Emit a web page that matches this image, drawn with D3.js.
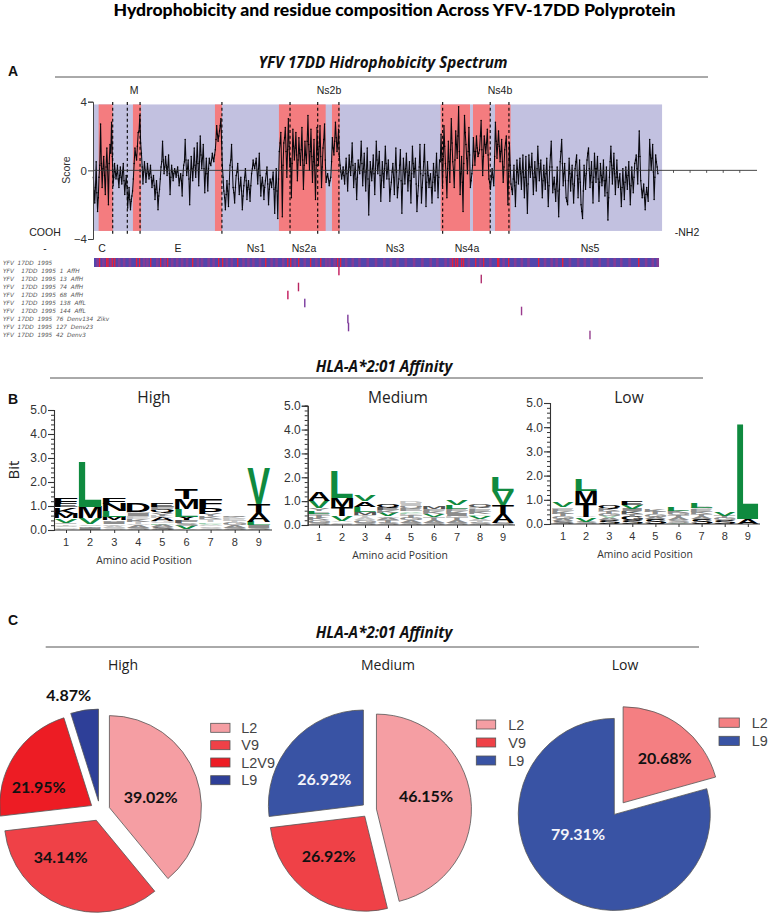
<!DOCTYPE html>
<html><head><meta charset="utf-8">
<script src="https://cdn.jsdelivr.net/npm/d3@7"></script>
<style>html,body{margin:0;padding:0;background:#fff}svg{display:block}</style>
</head><body><svg id="c" width="768" height="913"></svg>
<script>
// ---------- Panel A data ----------
const proteinTop = [["M",134],["Ns2b",329],["Ns4b",500]];
const proteinBottom = [["C",102],["E",178],["Ns1",256],["Ns2a",304],["Ns3",395],["Ns4a",467],["Ns5",590]];
const hydrophobicBands = [[34,119],[241,290],[736,778],[1122,1404],[1442,1489],[2098,2275],[2293,2396],[2426,2520]];
const proteinBoundaries = [119,207,284,778,1189,1356,1484,2110,2397,2510];
const zoneEnds = [34,119,207,241,290,736,778,1122,1404,1442,1489,2098,2275,2293,2396,2426,2520,3411];
const hydroZones = [
[-0.4,-1.9,0.5,-2.4],
[-0.4,2.7,-1.0,0.8,-1.4,1.3,-2.0,1.5,2.8],
[-0.9,0.4,-0.5,0.3,-1.0,0.2,-0.8,0.4,-1.4,-0.3],
[-2.2,-1.0,-2.3,-1.5],
[-0.5,1.3,0.6,2.2,3.2],
[1.0,-0.8,0.5,-0.7,0.4,-0.5,0.3,-1.0,-0.3,-1.7,-0.6,-2.3,-1.1,0.2,1.7,-0.2,0.8,-0.3,0.9,-1.4,0.3,-0.6,0.1,-0.4,0.2,-0.9,-0.2,-1.5,0.3,1.8,-0.3,0.6,-2.0,0.8,-0.6,1.3,-0.4,1.6,-0.9,2.0,0.1,1.5,-1.3,0.7,-1.2,0.7,0.3,1.0,0.5],
[1.2,2.6,1.7,2.3,3.0],
[0.3,-1.2,-2.3,-0.6,-2.1,0.3,1.5,-1.0,-1.9,-0.3,0.4,-1.4,-0.4,-2.3,-0.9,0.1,-1.7,-0.6,-1.8,-0.2,0.6,0.1,0.7,-0.8,1.0,-1.5,-0.4,-1.7,-0.6,0.2,-2.0,-0.5,-1.0,-0.1,-2.5,0.1,-2.8],
[1.1,2.2,-2.7,1.6,2.5,-0.4,3.0,0.2,-1.6,2.4,0.6,2.2,-0.6,1.9,0.3,2.5,-1.1,1.7,0.4,3.2,0.0,2.4,-0.7,1.8,-1.7,2.5,0.3,2.6,-1.0,1.3,2.7],
[-0.7,-0.2,-0.9,-0.4],
[1.9,0.9,2.8,1.1,2.4],
[0.3,-0.5,0.2,-0.8,0.7,-1.2,0.9,-0.3,1.6,-1.0,0.4,-1.7,0.6,-0.2,1.7,-0.9,1.0,-1.2,1.3,-2.6,0.5,-0.6,0.9,-1.4,1.7,-0.2,1.1,-1.8,0.5,-1.0,1.4,-0.5,0.6,-1.8,-0.7,0.4,-1.4,1.3,-1.6,-0.5,1.2,-2.5,0.7,-0.8,1.0,-1.2,0.5,-1.9,1.4,-0.4,0.7,-2.4,-0.9,1.5,-1.9,-0.3,1.5,-2.1,0.5,-1.0,-0.2,-1.9,0.4,-1.2,1.0,-1.6,0.6],
[2.1,-0.9,2.6,0.4,-1.6,1.7,-0.7,3.0,0.5,-1.0,2.3,0.7,3.7,-1.4,0.8,-2.4,3.2,1.5,-0.2,2.5],
[-1.0,-0.2],
[1.9,0.3,2.0,0.8,1.2,2.9,-0.3,2.0,1.0,2.4,-0.5],
[-1.1,0.1,-0.9],
[2.8,0.7,2.3,0.5,1.8,-0.7,1.2,2.0,-2.0,1.6],
[-0.8,-1.4,0.3,-2.1,0.6,-0.8,0.7,-1.1,0.9,-1.6,0.8,-2.5,0.9,-0.4,1.0,-1.4,0.5,-1.2,1.4,-0.6,0.6,-1.6,0.3,-1.1,0.7,-2.1,0.2,1.7,-1.3,-0.4,-1.8,0.2,-2.7,0.5,1.8,-0.9,0.4,-1.6,-2.0,0.7,-1.2,0.3,-1.9,0.1,0.9,-1.6,0.6,-2.0,-2.8,0.3,-1.1,0.6,1.3,-1.0,0.5,-1.9,1.0,-0.7,0.8,-1.8,0.4,-0.9,0.6,-1.5,0.2,-2.9,-0.4,1.4,-0.8,1.0,-1.4,0.6,-1.0,-0.2,-2.1,0.1,-1.7,0.2,-1.1,0.5,-2.0,0.2,-1.3,0.4,0.9,-0.8,2.3,-0.6,-1.6,-0.8,-2.3,-1.0,-1.8,1.8,0.0,1.5,-1.7,0.9,0.2]
];
const hydroCore = [
[-1.2,-1.0,-1.3,-1.6],
[0.3,0.4,0.1,-0.3,0.2,0.0,0.4,1.0,0.8],
[-0.4,-0.1,-0.2,-0.5,-0.3,-0.4,-0.1,-0.6,-0.8,-0.9],
[-1.6,-1.7,-1.8,-1.2],
[0.4,0.9,1.4,2.3,1.6],
[0.2,-0.1,0.0,-0.2,-0.1,-0.2,-0.4,-0.6,-0.9,-1.1,-1.3,-1.5,-0.5,0.5,0.6,0.2,0.3,0.2,-0.2,-0.4,-0.1,-0.2,-0.1,-0.1,-0.3,-0.5,-0.6,-0.3,0.5,0.6,0.1,-0.5,-0.4,0.1,0.2,0.3,0.5,0.4,0.5,0.9,0.7,0.1,-0.2,-0.2,0.1,0.4,0.6,0.7,0.9],
[1.8,2.1,2.0,2.6,1.7],
[-0.4,-1.6,-1.4,-1.2,-0.8,0.6,0.2,-1.3,-1.0,-0.1,-0.5,-0.9,-1.2,-1.5,-0.4,-0.6,-1.0,-1.1,-0.9,0.1,0.3,0.4,0.0,0.1,-0.3,-0.8,-0.9,-1.0,-0.2,-0.8,-1.1,-0.7,-0.5,-1.1,-1.0,-1.2,-0.5],
[1.6,0.2,0.3,1.9,1.1,1.2,1.4,0.7,0.4,1.4,1.3,0.9,0.6,1.0,1.2,0.6,0.3,0.9,1.7,1.5,1.1,0.8,0.5,0.0,0.3,1.2,1.4,0.8,0.2,1.8,0.6],
[-0.4,-0.5,-0.6,0.5],
[1.3,1.7,1.9,1.6,0.8],
[-0.1,-0.2,-0.3,0.0,-0.2,-0.1,0.2,0.5,0.3,-0.2,-0.5,-0.4,0.2,0.6,0.4,0.1,-0.1,0.0,-0.5,-0.9,-0.1,0.1,-0.2,0.1,0.6,0.4,-0.3,-0.6,-0.2,0.1,0.4,0.0,-0.5,-1.1,-0.1,-0.4,0.0,-0.1,-1.0,0.3,-0.6,-0.8,0.0,0.1,-0.1,-0.3,-0.6,-0.2,0.4,0.1,-0.8,-1.5,0.2,-0.2,-1.0,0.5,-0.2,-0.7,-0.3,-0.5,-1.0,-0.7,-0.4,-0.1,-0.3,-0.4,0.5],
[0.6,0.8,1.4,-0.4,0.1,0.5,1.2,1.6,0.0,0.6,1.5,2.0,1.1,-0.2,-0.7,0.4,2.2,0.7,1.1,0.9],
[-0.6,0.3],
[1.1,1.1,1.3,1.0,2.0,1.2,0.8,1.5,1.6,0.9,-0.7],
[-0.5,-0.4,0.8],
[1.7,1.5,1.4,1.1,0.5,0.2,1.6,0.0,-0.2,0.3],
[-1.1,-0.5,-0.9,-0.7,-0.1,0.0,-0.2,-0.1,-0.4,-0.4,-0.9,-0.8,0.2,0.2,-0.2,-0.4,-0.4,0.1,0.4,0.0,-0.5,-0.6,-0.4,-0.2,-0.7,-0.9,0.9,0.2,-0.8,-1.1,-0.8,-1.2,-1.1,1.1,0.4,-0.2,-0.6,-1.8,-0.6,-0.2,-0.4,-0.8,-0.9,0.5,-0.3,-0.5,-0.7,-2.4,-1.2,-0.3,-0.2,1.0,0.1,-0.3,-0.7,-0.4,0.1,0.1,-0.5,-0.7,-0.3,-0.4,-0.6,-0.6,-1.3,-1.6,0.5,0.3,0.1,-0.2,-0.4,-0.4,-0.6,-1.1,-1.0,-0.8,-0.7,-0.4,-0.3,-0.8,-0.9,-0.5,-0.4,0.6,0.1,0.8,0.8,-1.1,-1.2,-1.6,-1.4,-1.4,0.0,0.9,0.7,-0.1,-0.4,0.5,-0.2]
];
const stripStrong = [36,78,86,113,127,259,277,344,404,446,597,754,778,869,1038,1171,1189,1237,1309,1370,1472,1490,2166,2184,2196,2220,2232,2305,2353,2438,2444,2504,2685,2830,3289];
const stripDim = [20,55,100,150,180,215,300,320,380,425,470,500,530,560,625,650,690,720,800,830,900,930,960,1000,1070,1100,1140,1210,1270,1340,1400,1420,1450,1520,1560,1600,1650,1700,1750,1790,1830,1880,1930,1980,2030,2070,2120,2150,2260,2330,2390,2470,2540,2580,2620,2720,2760,2790,2870,2920,2960,3000,3050,3100,3140,3180,3230,3330,3370,3400];
const alignRows = ["YFV  17DD  1995","YFV    17DD  1995  1  AffH","YFV    17DD  1995  13  AffH","YFV    17DD  1995  74  AffH","YFV    17DD  1995  68  AffH","YFV    17DD  1995  138  AffL","YFV    17DD  1995  144  AffL","YFV  17DD  1995  76  Denv134  Zikv","YFV  17DD  1995  127  Denv23","YFV  17DD  1995  42  Denv3"];
const alignMarks = [1484,2343,1240,1176,1278,2586,1538,1542,2999];
const alignMarkColors = ["#c2185b","#b0306f","#b8245f","#c2185b","#7a3a9e","#9a3a8e","#7d3a9a","#7d3a9a","#96408e"];
const hydroTicks = [3500,3600,3700,3800,3900];

// ---------- Panel B data (bits, bottom to top) ----------
const logoHigh = [
[["A",.05],["G",.06],["S",.07],["T",.06],["I",.07],["V",.17],["M",.2],["K",.27],["E",.15],["F",.25]],
[["I",.1],["A",.06],["S",.07],["V",.25],["M",.48],["L",1.88]],
[["S",.08],["A",.08],["G",.07],["I",.1],["T",.07],["M",.13],["L",.25],["N",.3],["F",.27]],
[["S",.1],["A",.1],["G",.06],["T",.08],["K",.1],["E",.08],["Q",.08],["I",.1],["M",.07],["D",.38]],
[["S",.12],["A",.1],["L",.07],["G",.08],["A",.15],["K",.08],["Y",.1],["Q",.15],["F",.1],["E",.15]],
[["A",.05],["V",.13],["S",.1],["F",.12],["Y",.14],["L",.32],["M",.42],["T",.44]],
[["S",.08],["A",.07],["G",.07],["V",.05],["L",.05],["T",.08],["I",.07],["K",.1],["Y",.1],["P",.25],["F",.38]],
[["S",.1],["A",.1],["G",.1],["T",.08],["E",.08],["K",.08],["Q",.09]],
[["S",.1],["I",.1],["L",.15],["A",.37],["T",.35],["V",1.48]]];
const logoMedium = [
[["S",.1],["G",.1],["K",.1],["T",.1],["I",.08],["L",.12],["Y",.1],["V",.3],["A",.35]],
[["I",.05],["S",.06],["A",.05],["V",.22],["T",.38],["M",.37],["L",1.1]],
[["S",.1],["G",.1],["A",.08],["T",.08],["K",.06],["M",.12],["L",.23],["A",.23],["V",.25]],
[["S",.1],["T",.1],["A",.1],["G",.06],["V",.15],["K",.1],["E",.12],["Q",.15]],
[["S",.1],["A",.1],["G",.1],["T",.1],["K",.05],["L",.06],["V",.07],["E",.1],["Q",.1],["I",.08],["D",.08]],
[["S",.1],["A",.1],["T",.1],["G",.05],["V",.1],["K",.1],["F",.1],["M",.12]],
[["S",.1],["A",.1],["T",.1],["G",.08],["I",.1],["K",.1],["E",.1],["L",.14],["V",.2]],
[["S",.1],["T",.08],["A",.08],["V",.12],["L",.07],["K",.1],["E",.1],["F",.08],["Q",.12]],
[["S",.1],["A",.35],["T",.4],["V",.58],["L",.57]]];
const logoLow = [
[["S",.12],["A",.1],["G",.1],["T",.1],["K",.1],["E",.1],["I",.07],["V",.18]],
[["S",.1],["V",.17],["A",.03],["T",.57],["M",.48],["L",.45]],
[["S",.15],["A",.1],["V",.08],["G",.1],["T",.1],["K",.1],["Q",.14]],
[["S",.15],["G",.15],["T",.1],["K",.12],["I",.1],["V",.17],["E",.17]],
[["S",.2],["A",.1],["G",.1],["T",.1],["K",.1]],
[["V",.05],["S",.1],["A",.1],["T",.1],["G",.1],["K",.1],["L",.13]],
[["S",.2],["A",.1],["T",.1],["K",.1],["E",.1],["G",.08],["L",.22]],
[["S",.15],["G",.1],["T",.1],["V",.13]],
[["A",.2],["L",3.9]]];
const positions = [1,2,3,4,5,6,7,8,9];
const bitTicks = [0,1,2,3,4,5];

// ---------- Panel C data ----------
const pieHighLabels = ["L2","V9","L2V9","L9"];
const pieHighValues = [39.02,34.14,21.95,4.87];
const pieHighColors = ["#f59ea3","#ef4147","#ed1c24","#2e3f98"];
const pieMediumLabels = ["L2","V9","L9"];
const pieMediumValues = [46.15,26.92,26.92];
const pieMediumColors = ["#f59ea3","#ef4147","#3953a4"];
const pieLowLabels = ["L2","L9"];
const pieLowValues = [20.68,79.31];
const pieLowColors = ["#f47f82","#3953a4"];

const svg = d3.select("#c");
const SANS = '"Liberation Sans",Arial,sans-serif', HUM = 'Lato,"Open Sans",sans-serif', OS='"Open Sans",sans-serif';
function txt(x,y,s,size,o={}){
  return svg.append("text").attr("x",x).attr("y",y).text(s)
    .attr("font-family",o.f||SANS).attr("font-size",size)
    .attr("font-weight",o.w||"normal").attr("font-style",o.st||"normal")
    .attr("text-anchor",o.a||"middle").attr("dominant-baseline","central")
    .attr("fill",o.c||"#333");
}
function rule(x1,x2,y){svg.append("line").attr("x1",x1).attr("x2",x2).attr("y1",y).attr("y2",y).attr("stroke","#555").attr("stroke-width",1);}

txt(394.5,9,"Hydrophobicity and residue composition Across YFV-17DD Polyprotein",17.6,{f:HUM,w:900,c:"#000"});
txt(383,62,"YFV 17DD Hidrophobicity Spectrum",15.2,{f:OS,w:700,st:"italic",c:"#111"});
rule(55,708,77);
txt(13,71,"A",14,{w:"bold",c:"#111"});

// Panel A
const x = d3.scaleLinear().domain([0,3500]).range([93,673]);
const y = d3.scaleLinear().domain([-4,4]).range([239,101.7]);
const gA = svg.append("g");
gA.append("rect").attr("x",x(0)).attr("width",x(3434)-x(0)).attr("y",y(3.84)).attr("height",y(-3.53)-y(3.84)).attr("fill","#c2c1e0");
gA.selectAll(".b").data(hydrophobicBands).join("rect").attr("x",d=>x(d[0])).attr("width",d=>x(d[1])-x(d[0]))
  .attr("y",y(3.84)).attr("height",y(-3.53)-y(3.84)).attr("fill","#f47c7f");
const pts=[]; let zs=0;
hydroZones.forEach((vals,i)=>{
  const e=zoneEnds[i];
  vals.forEach((v,j)=>pts.push([zs+(e-zs)*(j+.25)/vals.length,v]));
  hydroCore[i].forEach((v,j)=>pts.push([zs+(e-zs)*(j+.75)/hydroCore[i].length,v]));
  zs=e;
});
pts.sort((a,b)=>a[0]-b[0]);
gA.append("path").attr("d",d3.line().x(d=>x(d[0])).y(d=>y(d[1]))(pts)).attr("fill","none").attr("stroke","#0a0a10").attr("stroke-width",1.05);
gA.selectAll(".p").data(pts).join("circle").attr("cx",d=>x(d[0])).attr("cy",d=>y(d[1])).attr("r",.75).attr("fill","#000");
gA.selectAll(".dl").data(proteinBoundaries).join("line").attr("x1",d=>x(d)).attr("x2",d=>x(d))
  .attr("y1",y(3.98)).attr("y2",y(-3.86)).attr("stroke","#000").attr("stroke-width",1.1).attr("stroke-dasharray","3,2.6");
const axX=gA.append("g").attr("transform",`translate(0,${y(0)})`).call(d3.axisBottom(x).tickValues(hydroTicks).tickSize(2.5).tickFormat(""));
axX.select(".domain").remove();
gA.append("line").attr("x1",93).attr("x2",757).attr("y1",y(0)).attr("y2",y(0)).attr("stroke","#333").attr("stroke-width",.9);
axX.selectAll("line").attr("stroke","#555");
const axY=gA.append("g").attr("transform","translate(93,0)").call(d3.axisLeft(y).tickValues([-4,0,4]).tickSize(5).tickFormat(d3.format("d")));
axY.selectAll("path.domain,line").attr("stroke","#444");
axY.selectAll("text").attr("font-family",SANS).attr("font-size",11.5).attr("fill","#333").attr("x",-6);
svg.append("text").attr("transform","translate(66,170) rotate(-90)").text("Score").attr("font-family",SANS).attr("font-size",10.5).attr("fill","#333").attr("text-anchor","middle").attr("dominant-baseline","central");
proteinTop.forEach(d=>txt(d[1],90,d[0],10.5,{c:"#222"}));
proteinBottom.forEach(d=>txt(d[1],248,d[0],10.5,{c:"#222"}));
txt(45,232,"COOH",10.5,{c:"#222"});txt(45,248,"-",10,{c:"#222"});txt(687,232,"-NH2",10.5,{c:"#222"});

// alignment strip
gA.append("rect").attr("x",94).attr("width",565).attr("y",258).attr("height",9).attr("fill","#5246ac");
gA.selectAll(".sd").data(stripDim).join("rect").attr("x",d=>x(d)).attr("width",2.6).attr("y",258).attr("height",9).attr("fill","#8a3a92").attr("opacity",.9);
gA.selectAll(".ss").data(stripStrong).join("rect").attr("x",d=>x(d)).attr("width",1.4).attr("y",258).attr("height",9).attr("fill","#e3223d");
const rowY=d3.scalePoint().domain(d3.range(alignRows.length)).range([263,335]);
alignRows.forEach((s,i)=>{const t=txt(3,rowY(i),s,5.8,{a:"start",f:'"DejaVu Sans",sans-serif',st:"italic",c:"#555"});t.style("white-space","pre");});
gA.selectAll(".m").data(alignMarks).join("rect").attr("x",d=>x(d)-.7).attr("width",1.4)
  .attr("y",(d,i)=>rowY(i+1)-4.3).attr("height",8.6).attr("fill",(d,i)=>alignMarkColors[i]);

// Panel B
txt(384,366,"HLA-A*2:01 Affinity",15.2,{f:OS,w:700,st:"italic",c:"#111"});
rule(50,703,378);
txt(13,399,"B",14,{w:"bold",c:"#111"});
const ctx=document.createElement("canvas").getContext("2d");
ctx.font='bold 100px "Liberation Sans"';
function letterFill(ch,h){
  if(ch==="L"||ch==="V") return h<=.08?"#9fd0b0":"#0f8a3f";
  if(h<=.08) return "#c4c4c4";
  if(h<=.1) return "#8c8c8c";
  if(h<=.12) return "#555";
  return "#000";
}
function logo(data,ax,y0,y5,first,step,w,xEnd,title,tx,labelX,labelY,tickY){
  const ly=d3.scaleLinear().domain([0,5]).range([y0,y5]);
  const g=svg.append("g");
  const cx=d3.scaleLinear().domain([1,9]).range([first,first+8*step]);
  data.forEach((stack,i)=>{
    let acc=0; const xl=cx(i+1)-w/2;
    stack.forEach(([ch,h])=>{
      const m=ctx.measureText(ch);
      const iw=m.actualBoundingBoxRight+m.actualBoundingBoxLeft, ih=m.actualBoundingBoxAscent+m.actualBoundingBoxDescent;
      const sx=w/iw, sy=(ly(acc)-ly(acc+h))/ih;
      g.append("text").text(ch).attr("font-family",'"Liberation Sans"').attr("font-weight","bold").attr("font-size",100)
       .attr("fill",letterFill(ch,h))
       .attr("transform",`translate(${xl},${ly(acc)}) scale(${sx},${sy}) translate(${m.actualBoundingBoxLeft},${-m.actualBoundingBoxDescent})`);
      acc+=h;
    });
  });
  const minor=g.append("g").attr("transform",`translate(${ax},0)`).call(d3.axisLeft(ly).tickValues(d3.range(0,5.01,.2)).tickSize(3).tickFormat(""));
  minor.selectAll("line,path").attr("stroke","#333");
  const major=g.append("g").attr("transform",`translate(${ax},0)`).call(d3.axisLeft(ly).tickValues(bitTicks).tickSize(6).tickFormat(d3.format(".1f")));
  major.selectAll("line,path").attr("stroke","#333").attr("stroke-width",1.1);
  major.selectAll("text").attr("font-family",SANS).attr("font-size",12).attr("fill","#333").attr("x",-7);
  const xa=g.append("g").attr("transform",`translate(0,${y0})`).call(d3.axisBottom(cx).tickValues(positions).tickSize(3).tickFormat(""));
  xa.select(".domain").remove();
  xa.selectAll("line").attr("stroke","#333");
  g.append("line").attr("x1",ax).attr("x2",xEnd).attr("y1",y0).attr("y2",y0).attr("stroke","#333").attr("stroke-width",1.1);
  positions.forEach(p=>txt(cx(p),tickY,p,11,{}));
  txt(tx,397,title,15.5,{f:OS,c:"#222"});
  txt(labelX,labelY,"Amino acid Position",10.4,{f:OS,c:"#333"});
}
logo(logoHigh,54,530,410,66,24.1,23,272,"High",154,144,560,541.5);
logo(logoMedium,307.7,525,405.7,319,23,22,515,"Medium",398,400,555,537);
logo(logoLow,550,524,403,563,23.1,21.5,760,"Low",629,645,554,536);
svg.append("text").attr("transform","translate(13,470) rotate(-90)").text("Bit").attr("font-family",OS).attr("font-size",15).attr("fill","#222").attr("text-anchor","middle").attr("dominant-baseline","central");

// Panel C
txt(384,632,"HLA-A*2:01 Affinity",15.2,{f:OS,w:700,st:"italic",c:"#111"});
rule(45.7,699,647);
txt(13,620,"C",14,{w:"bold",c:"#111"});
txt(123,664,"High",14,{f:OS,c:"#222"});
txt(388,664,"Medium",14,{f:OS,c:"#222"});
txt(625,664,"Low",14,{f:OS,c:"#222"});
function pie(vals,cols,cx,cy,r,ex){
  const arcs=d3.pie().sort(null).value(d=>d)(vals);
  const arc=d3.arc().innerRadius(0).outerRadius(r);
  svg.append("g").attr("transform",`translate(${cx},${cy})`).selectAll("path").data(arcs).join("path")
    .attr("d",arc).attr("fill",(d,i)=>cols[i]).attr("stroke","#555").attr("stroke-width",.8)
    .attr("transform",d=>{const a=(d.startAngle+d.endAngle)/2;return `translate(${Math.sin(a)*ex},${-Math.cos(a)*ex})`;});
}
pie(pieHighValues,pieHighColors,100,811,92,10);
pie(pieMediumValues,pieMediumColors,369,810,95,7.5);
pie(pieLowValues,pieLowColors,618.7,808.6,96,7.3);
const lab=(x,y,s,c)=>txt(x,y,s,16,{f:HUM,w:700,c:c||"#111"});
lab(150.7,796,"39.02%");lab(60.7,856.7,"34.14%");lab(38.7,786.7,"21.95%");lab(68.7,694,"4.87%");
lab(324.3,778,"26.92%","#f4f4fa");lab(328.7,855,"26.92%");lab(426,795,"46.15%");
lab(664.7,757.7,"20.68%");lab(578,833,"79.31%","#f4f4fa");
function legend(labels,cols,xs,w,ys,h,tx){
  labels.forEach((l,i)=>{
    svg.append("rect").attr("x",xs).attr("y",ys[i]).attr("width",w).attr("height",h).attr("fill",cols[i]).attr("stroke","#555").attr("stroke-width",.8);
    txt(tx,ys[i]+h/2,l,14.4,{a:"start",c:"#444"});
  });
}
legend(pieHighLabels,pieHighColors,210.7,19.3,[723.3,740.7,758,775.7],9,241.3);
legend(pieMediumLabels,pieMediumColors,476.3,19.4,[720,738,756],9,508.3);
legend(pieLowLabels,pieLowColors,719,20.3,[718,736.3],9.3,751.7);
</script></body></html>
